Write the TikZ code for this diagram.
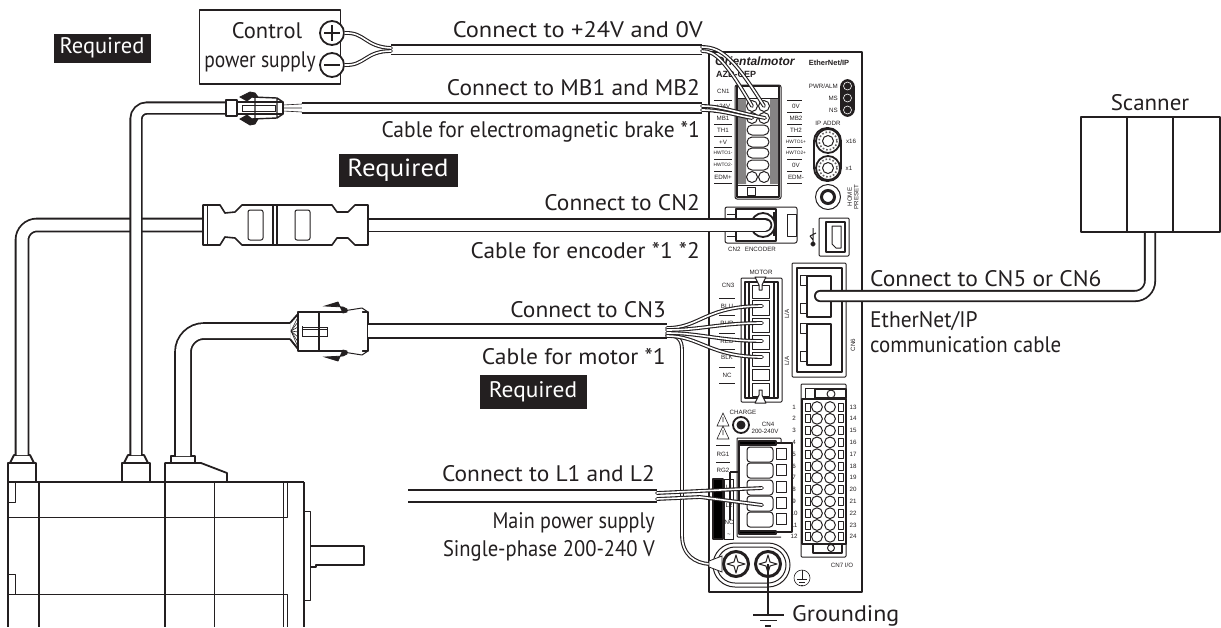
\documentclass[tikz,border=0pt]{standalone}
\usepackage{fontspec}
\usepackage{graphicx}
\setmainfont{PT Sans}
\newfontfamily\smallfont{Liberation Sans}
\definecolor{ink}{HTML}{231F20}
\newcommand{\lblsize}{\fontsize{22.5}{24}\selectfont}
\newcommand{\tinysize}{\smallfont\fontsize{6.2}{7}\selectfont}
\newcommand{\hwto}[1]{{\fontsize{4.8}{5}\selectfont #1}}
\tikzset{
  ink/.style={draw=ink, line width=1.8pt, line join=round},
  inkmid/.style={draw=ink, line width=1pt, line join=round},
  inkthin/.style={draw=ink, line width=.6pt},
  cable/.style={draw=ink, line width=1.8pt, double=white, double distance=#1},
  cable/.default=10pt,
  wire/.style={draw=ink, line width=1.1pt, double=white, double distance=1.6pt, line cap=round},
  lbl/.style={font=\lblsize, text=ink, inner sep=0pt},
  tiny/.style={font=\tinysize, text=ink, inner sep=0pt},
  tag/.style={fill=ink, text=white, inner sep=0pt, font=\lblsize},
}
\begin{document}
\begin{tikzpicture}[x=1pt, y=-1pt]
\useasboundingbox (0,0) rectangle (1221,627);

% Driver
\draw[ink] (709,52) rectangle (862,592);
\node[tiny, font=\smallfont\bfseries\itshape\fontsize{12}{13}\selectfont, anchor=west] (brand) at (715,61) {Orientalmotor};
\node[tiny, font=\smallfont\bfseries\fontsize{9}{10}\selectfont, anchor=west] (model) at (716,74) {AZD-CEP};
\node[tiny, font=\smallfont\bfseries\fontsize{7.5}{9}\selectfont] (enip) at (829,63) {EtherNet/IP};

% Status lamps
\draw[ink, fill=ink, rounded corners=7pt] (841,80) rectangle (854,116);
\foreach \y/\t in {86/PWR\slash ALM,98/MS,110/NS} {
  \node[tiny, anchor=east] (lamp\y) at (838,\y) {\t};
  \draw[draw=white, line width=.6pt, fill=ink] (847.5,\y) circle (4);
}

% Terminal CN1
\draw[inkmid, rounded corners=2pt] (735,85) rectangle (781,199);
\draw[ink] (737,86) rectangle (779,197);
\fill[white] (738,87) rectangle (778,98);
\fill[ink!55] (738,99) rectangle (746,184) (770,99) rectangle (778,184);
\draw[inkmid] (736,98) -- (780,98) (736,185) -- (780,185);
\draw[inkmid] (747,187) rectangle (755,195);
\foreach \y in {106,118,177} {
  \draw[inkmid, fill=white] (752,\y) circle (5.5) (764,\y) circle (5.5);
}
\foreach \y in {130,142,153,165} {
  \draw[inkmid, fill=white, rounded corners=5pt] (747,\y-5) rectangle (769,\y+5);
}
\node[tiny, anchor=west] (cnone) at (717,91) {CN1};
\foreach \y/\t/\u in {106/+24V/0V,118/MB1/MB2,130/TH1/TH2,142/+V/\hwto{HWTO1+},153/\hwto{HWTO1-}/\hwto{HWTO2+},165/\hwto{HWTO2-}/0V,177/EDM+/EDM-} {
  \node[tiny] (cnl\y) at (723,\y) {\t};
  \node[tiny] (cnr\y) at (796,\y) {\u};
  \draw[inkthin] (714,\y-6) -- (732,\y-6) (787,\y-6) -- (802,\y-6);
}
\draw[inkthin] (714,183) -- (732,183) (787,183) -- (802,183);

% Rotary switches and button
\node[tiny] (ipaddr) at (828,123) {IP ADDR};
\draw[ink, rounded corners=13pt] (814,128) rectangle (841,181);
\foreach \y/\t/\x in {141/x16/851,168/x1/849} {
  \draw[ink, fill=white] (828,\y) circle (12);
  \draw[draw=ink!70, line width=1.6pt, dotted] (828,\y) circle (9);
  \draw[inkmid] (828,\y) circle (5.5);
  \node[tiny] (sw\y) at (\x,\y) {\t};
}
\draw[inkmid] (828,197) circle (12.5);
\draw[line width=3pt, draw=ink] (828,197) circle (6.5);
\node[tiny, rotate=90, align=center, font=\tinysize\linespread{.9}\selectfont] (home) at (853,197) {HOME\\PRESET};

% Connector CN2
\draw[inkmid, rounded corners=2pt] (725,207) rectangle (797,243);
\draw[ink] (736,209) -- (736,241) -- (776,241) -- (776,209) -- cycle;
\draw[ink] (774,212) -- (774,236);
\draw[inkmid] (727,214) -- (736,214) (727,236) -- (736,236) (787,214) rectangle (796,236);
\draw[ink, fill=white] (763,225) circle (12);
\node[tiny] (cntwo) at (752,249) {CN2\hspace{.7em}ENCODER};

% USB
\draw[inkmid, rounded corners=1pt] (819,218) rectangle (849,256);
\draw[ink] (826,222) rectangle (845,252);
\draw[inkmid] (832,226) -- (841,226) -- (841,248) -- (836,248) -- (832,244) -- cycle;
\draw[inkmid] (813,228) -- (813,243) (810,236) -- (816,233) (813,240) -- (810,236);
\fill[ink] (813,244) circle (1.8);

% EtherNet/IP jacks
\draw[inkmid, rounded corners=1pt] (792,263) rectangle (846,377);
\draw[ink] (797,268) rectangle (842,372);
\foreach \y in {276,324} {
  \draw[ink, fill=white] (807,\y) rectangle (831,\y+41);
  \draw[inkmid, fill=white] (800,\y-1) rectangle (806,\y+9) (800,\y+27) rectangle (806,\y+37);
}
\node[tiny, rotate=90] (lafirst) at (787,314) {L/A};
\node[tiny, rotate=90] (lasecond) at (787,361) {L/A};
\node[tiny, rotate=90] (cnsix) at (853,345) {CN6};

% Connector CN3
\draw[inkmid, rounded corners=1pt] (741,278) rectangle (782,402);
\draw[ink] (745,282) rectangle (778,398);
\draw[ink] (749,282) -- (749,398) (774,282) -- (774,398);
\foreach \y/\h in {285/13,300/15,318/14,335/14,352/14,369/11,383/13} {
  \draw[inkmid, fill=white] (752,\y) rectangle (769,\y+\h);
}
\draw[inkmid, fill=white] (755,277) -- (766,277) -- (762,285) -- (762,290) -- (759,290) -- (759,285) -- cycle;
\draw[inkmid, fill=white] (755,403) -- (766,403) -- (762,395) -- (762,390) -- (759,390) -- (759,395) -- cycle;
\node[tiny] (motortxt) at (761,272) {MOTOR};
\node[tiny] (cnthree) at (728,285) {CN3};
\foreach \y/\t in {306/BLU,323/PUR,341/RED,357/BLK,375/NC} {
  \node[tiny] (cnm\y) at (727,\y) {\t};
  \draw[inkthin] (719,\y-8) -- (735,\y-8);
}
\draw[inkthin] (719,383) -- (735,383);

% Charge and CN4
\node[tiny] (charge) at (743,412) {CHARGE};
\draw[ink] (741,425) circle (8);
\draw[inkmid, fill=ink] (741,425) circle (4);
\foreach \y in {420,433} {
  \draw[inkthin] (723,\y-7) -- (729,\y+6) -- (717,\y+6) -- cycle (723,\y-3) -- (723,\y+2);
}
\node[tiny] (cnfour) at (768,424) {CN4};
\node[tiny] (cnfourv) at (765,431) {200-240V};
\draw[inkthin] (716,445) -- (730,445) (716,462) -- (730,462);
\node[tiny] (rgone) at (723,454) {RG1};
\node[tiny] (rgtwo) at (723,470) {RG2};
\draw[inkmid, rounded corners=1pt] (737,438) -- (781,438) -- (781,443) (737,438) -- (737,537) -- (781,537);
\draw[ink] (739,443) -- (792,443) -- (792,532) -- (739,532) -- cycle;
\fill[ink] (739,441) rectangle (776,445) (739,531) rectangle (776,534);
\foreach \y in {447,463,480,496,512} {
  \draw[inkmid, fill=white, rounded corners=3pt] (747,\y) rectangle (773,\y+15);
  \draw[inkmid, fill=white] (776,\y+1) rectangle (786,\y+12);
}
\fill[ink] (713,479) rectangle (723,539);
\draw[inkthin, fill=white] (724,479) rectangle (733,539);
\draw[ink] (730,472) -- (739,472) (730,472) -- (730,520);
\foreach \y/\t in {487/L1,505/L2,522/NC,535/\textasciitilde} {
  \node[tiny, font=\tinysize] (mains\y) at (729,\y) {\t};
}

% Connector CN7
\draw[inkmid, rounded corners=1pt] (801,384) rectangle (846,557);
\draw[ink] (802,399) rectangle (846,544);
\draw[inkmid] (805,388) rectangle (814,398);
\draw[ink] (815,389) rectangle (846,398);
\draw[inkmid] (831,394) circle (4);
\draw[ink] (813,544) rectangle (842,553);
\draw[inkmid] (831,548) circle (3.5);
\foreach \i [evaluate=\i as \y using 407+(\i-1)*11.8, evaluate=\i as \j using int(\i+12)] in {1,...,12} {
  \draw[inkmid] (805,\y-4) rectangle (810,\y+4) (838,\y-4) rectangle (843,\y+4);
  \draw[inkmid] (817,\y) circle (5.4) (830,\y) circle (5.4);
  \node[tiny] (pinl\i) at (794,\y) {\i};
  \node[tiny] (pinr\i) at (853,\y) {\j};
}
\node[tiny] (cnseven) at (842,565) {CN7 I/O};

% Ground terminal
\draw[inkmid, rounded corners=22pt] (713,543) rectangle (790,587);
\draw[inkmid, rounded corners=18pt] (717,547) rectangle (786,583);
\foreach \x in {736,768} {
  \draw[draw=ink, line width=3pt, fill=white] (\x,564) circle (12.5);
  \draw[inkmid, fill=white] (\x-9,564) -- (\x-2,562) -- (\x,555) -- (\x+2,562) -- (\x+9,564) -- (\x+2,566) -- (\x,573) -- (\x-2,566) -- cycle;
}
\draw[inkthin] (802,578) circle (8);
\draw[inkthin] (802,570) -- (802,579) (797,579) -- (807,579) (799,582) -- (805,582) (801,585) -- (803,585);

% Ground symbol
\coordinate (gndscrew) at (768,564);
\coordinate (gndend) at (768,615);
\draw[ink] (gndscrew) -- (gndend);
\draw[ink] (753,615) -- (784,615) (760,620.5) -- (777,620.5) (765,626) -- (771,626);
\node[lbl, anchor=west] (grounding) at (792,616) {\scalebox{1.067}[1]{Grounding}};

% Motor
\draw[ink] (8,482) -- (304,482) (8,482) -- (8,627) (39,482) -- (39,627) (165,482) -- (165,627) (304,482) -- (304,627);
\draw[inkmid] (214,482) -- (214,627) (283,482) -- (283,627) (8,517) -- (287,517) -- (287,482) (8,594) -- (287,594) -- (287,627);
\draw[inkmid] (8,502) -- (15,502) -- (15,482) (8,574) -- (15,574) -- (15,594);
\draw[inkmid] (305,511) -- (310,511) -- (310,600) -- (305,600);
\draw[ink] (310,546) -- (364,546) -- (364,565) -- (316,565) -- (316,567) -- (310,567);
\draw[inkmid] (310,546) -- (310,565);
\foreach \x in {8,122} {
  \draw[ink] (\x,482) -- (\x,463) -- (\x+28,463) -- (\x+28,482);
  \draw[ink] (\x+2,463) -- (\x+6,455) -- (\x+22,455) -- (\x+26,463);
}
\draw[ink] (165,482) -- (165,463) -- (201,463) -- (227,473) -- (227,482);
\draw[ink] (171,463) -- (171,456) -- (195,456) -- (195,463);

% Cables
\coordinate (encmotor) at (22,455);
\coordinate (encplug) at (203,225);
\coordinate (brakemotor) at (136,455);
\coordinate (brakeplug) at (226,108);
\coordinate (mainmotor) at (183,456);
\coordinate (mainplug) at (290,331);
\coordinate (encright) at (360,225);
\coordinate (encjack) at (765,225);
\draw[cable=11pt, rounded corners=15pt] (encmotor) |- (encplug);
\draw[cable=9.5pt, rounded corners=11pt] (brakemotor) |- (brakeplug);
\draw[cable=14pt, rounded corners=21pt] (mainmotor) |- (mainplug);
\draw[cable=11pt, line cap=round] (encright) -- (encjack);

% Encoder connector
\draw[inkmid, line width=1.6pt, fill=white] (203,205) -- (220,205) -- (225,213) -- (235,212) -- (242,205) -- (332,205) -- (337,212) -- (348,212) -- (355,205) -- (368,205) -- (368,245) -- (355,245) -- (348,238) -- (337,238) -- (332,245) -- (242,245) -- (235,238) -- (225,237) -- (220,245) -- (203,245) -- cycle;
\draw[inkmid, rounded corners=2pt] (248,210) rectangle (263,240) (295,210) rectangle (310,240);
\draw[inkmid] (207,205) -- (207,245) (250,205) -- (262,205) (250,245) -- (262,245);
\draw[draw=ink, line width=1.4pt] (273,205) -- (273,245) (277,205) -- (277,245);

% Brake connector
\draw[inkmid, line width=1.4pt, fill=white] (226,100) rectangle (237,116);
\draw[inkmid, line width=1.4pt, fill=white] (237,102) rectangle (283,114);
\draw[draw=ink, line width=.8pt, fill=ink] (240,97) -- (250,92) -- (255,93) -- (258,97) -- (252,97) -- (247,101) -- cycle;
\draw[draw=ink, line width=.8pt, fill=ink] (240,119) -- (250,125) -- (255,124) -- (258,119) -- (252,119) -- (247,115) -- cycle;
\draw[inkmid, line width=1.4pt] (252,97) -- (277,98) -- (283,102) (252,119) -- (277,118) -- (283,114) (255,97) -- (255,119) (277,98) -- (277,118);
\draw[inkthin] (242,105) -- (275,105) -- (275,111) -- (242,111) -- cycle;
\draw[inkthin] (283,105) -- (302,104) (283,108) -- (302,108) (283,111) -- (302,112);

% Motor connector
\draw[ink, fill=white] (298,312) rectangle (368,351);
\draw[ink] (319,312) -- (319,351);
\fill[white] (344,308) rectangle (362,314) (344,349) rectangle (362,354);
\draw[draw=ink, line width=.8pt, fill=ink] (325,306) -- (338,302) -- (343,313) -- (347,312) -- (347,309) -- (343,307) -- cycle;
\draw[draw=ink, line width=.8pt, fill=ink] (325,357) -- (338,361) -- (343,350) -- (347,351) -- (347,354) -- (343,356) -- cycle;
\draw[inkmid] (343,311) -- (362,308) -- (368,312) (343,352) -- (362,355) -- (368,351);
\draw[inkthin] (302,327) rectangle (327,336);
\draw[inkmid] (302,326) -- (302,337) (302,329) -- (327,329);
\draw[ink] (290,323) -- (298,314) (290,339) -- (298,349);
\foreach \y in {317,322,327,332,337,342,347} {
  \draw[inkthin] (291,331) -- (298,\y);
}

% Right side of the cables
\coordinate (motorstart) at (368,331);
\coordinate (motorend) at (667,331);
\draw[cable=12pt] (motorstart) -- (motorend);
\coordinate (brakestart) at (302,108);
\coordinate (brakeend) at (702,108);
\draw[cable=8pt] (brakestart) -- (brakeend);
\coordinate (powerstart) at (391,49.5);
\coordinate (powerend) at (702,49.5);
\draw[cable=8pt] (powerstart) -- (powerend);
\coordinate (acstart) at (408,496);
\coordinate (acend) at (657,496);
\draw[cable=9.5pt] (acstart) -- (acend);
\coordinate (ethjack) at (820,296);
\coordinate (scannerport) at (1150,232);
\draw[cable=8.5pt, rounded corners=15pt, line cap=round] (ethjack) -- (1150,296) -- (scannerport);

% Wires to the driver
\draw[wire] (667,335) .. controls (678,335) and (682,340) .. (682,350) -- (682,535) .. controls (682,555) and (695,563) .. (709,564);
\draw[wire] (667,328) .. controls (700,328) and (705,306) .. (762,306);
\draw[wire] (667,330) .. controls (700,330) and (720,323) .. (762,323);
\draw[wire] (667,333) .. controls (700,333) and (720,341) .. (762,341);
\draw[wire] (667,336) .. controls (700,336) and (710,357) .. (762,357);
\draw[wire] (657,493) -- (762,488);
\draw[wire] (657,499) -- (700,497) -- (762,505);
\draw[wire] (702,47) .. controls (722,47) and (735,60) .. (764,106);
\draw[wire] (702,51) .. controls (715,51) and (725,60) .. (752,106);
\draw[wire] (702,106) .. controls (720,106) and (735,112) .. (765,118);
\draw[wire] (702,110) .. controls (720,110) and (735,115) .. (752,118);
\draw[draw=ink, line width=.8pt, fill=white] (709,561) -- (722,556) -- (722,572) -- (709,567) -- cycle;

% Power supply
\node[ink, fill=white, minimum width=141pt, minimum height=74pt, inner sep=0pt] (powerbox) at (270,47) {};
\node[lbl] (powerone) at (267,31) {Control};
\node[lbl] (powertwo) at (260,62) {\scalebox{.867}[1]{power supply}};
\node[circle, ink, fill=white, inner sep=0pt, minimum size=24pt] (plus) at (332,33) {};
\node[circle, ink, fill=white, inner sep=0pt, minimum size=24pt] (minus) at (332,65) {};
\draw[ink, line width=1.5pt] (324,33) -- (340,33) (332,25) -- (332,41);
\draw[ink, line width=2.5pt] (324,65) -- (340,65);
\draw[wire] (plus.east) .. controls (365,32) and (365,47) .. (391,48);
\draw[wire] (minus.east) .. controls (365,66) and (365,51) .. (391,51);

% Scanner
\node[lbl] (scannertxt) at (1150,103) {\scalebox{1.02}[1]{Scanner}};
\draw[ink, fill=white] (1081,117) rectangle (1220,232);
\draw[ink] (1127,117) -- (1127,232) (1173,117) -- (1173,232);

% Texts
\node[tag, minimum width=97pt, minimum height=29pt] (reqpower) at (102,48) {Required};
\node[tag, minimum width=119pt, minimum height=33pt] (reqbrake) at (398,170) {\scalebox{1.19}[1.1]{Required}};
\node[tag, minimum width=107pt, minimum height=34pt] (reqmotor) at (533,392) {\scalebox{1.04}[1]{Required}};
\foreach \n/\x/\y/\s/\t in {a/703/30/1.085/Connect to +24V and 0V, b/700/88/1.04/Connect to MB1 and MB2, c/700/132/.955/Cable for electromagnetic brake *1, d/700/203/1.04/Connect to CN2, e/700/251/1.035/Cable for encoder *1 *2, f/666/310/1.04/Connect to CN3, g/666/357/1.045/Cable for motor *1, h/655/474/1.04/Connect to L1 and L2, i/655/523/.893/Main power supply, j/655/551/.915/Single-phase 200-240 V} {
  \node[lbl, anchor=east] (txt\n) at (\x,\y) {\scalebox{\s}[1]{\t}};
}
\foreach \n/\y/\s/\t in {k/279/1.045/Connect to CN5 or CN6, l/321/.955/{EtherNet/IP}, m/345/.93/communication cable} {
  \node[lbl, anchor=west] (txt\n) at (870,\y) {\scalebox{\s}[1]{\t}};
}
\end{tikzpicture}
\end{document}
